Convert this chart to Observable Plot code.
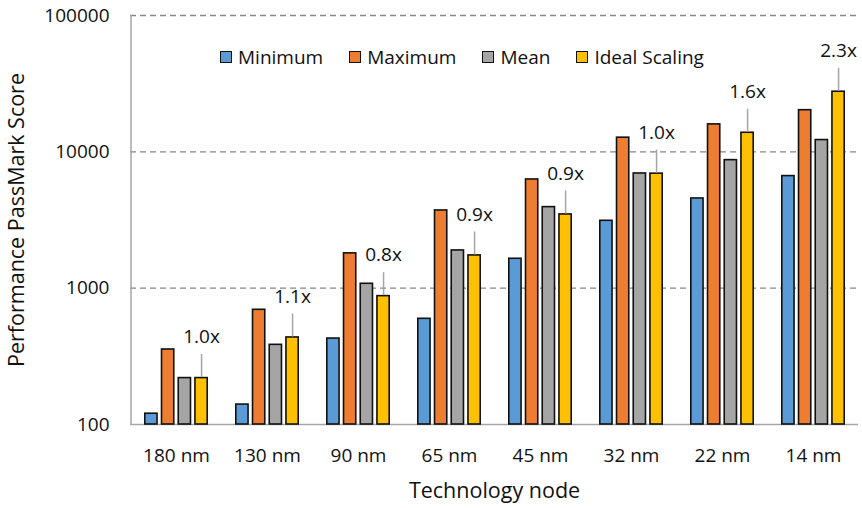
<!DOCTYPE html>
<html>
<head>
<meta charset="utf-8">
<script src="https://cdn.jsdelivr.net/npm/d3@7"></script>
<script src="https://cdn.jsdelivr.net/npm/@observablehq/plot@0.6"></script>
<style>
  html, body { margin: 0; padding: 0; background: #fff; }
  #wrap { position: relative; width: 862px; height: 508px; font-family: "Open Sans", sans-serif; }
  #legend { position: absolute; left: 220px; top: 44px; display: flex; gap: 26px; font-size: 19px; color: #111; }
  .item { display: flex; align-items: center; gap: 6px; }
  .sw { width: 10px; height: 10px; border: 1.5px solid #111; }
</style>
</head>
<body>
<div id="wrap"><div id="legend"></div></div>
<script>
// ---- data ----
const nodes = ["180 nm", "130 nm", "90 nm", "65 nm", "45 nm", "32 nm", "22 nm", "14 nm"];
const seriesNames = ["Minimum", "Maximum", "Mean", "Ideal Scaling"];
const seriesColors = ["#5b9bd5", "#ed7d31", "#a5a5a5", "#ffc000"];
const minimum = [120, 140, 427, 596, 1643, 3120, 4550, 6640];
const maximum = [355, 694, 1800, 3715, 6270, 12700, 15900, 20200];
const mean = [219, 384, 1077, 1891, 3930, 6940, 8690, 12200];
const idealScaling = [219, 435, 874, 1738, 3474, 6920, 13800, 27600];
const scalingLabels = ["1.0x", "1.1x", "0.8x", "0.9x", "0.9x", "1.0x", "1.6x", "2.3x"];
const yTicks = [100, 1000, 10000, 100000];
const gridTicks = [1000, 10000, 100000];

const seriesValues = [minimum, maximum, mean, idealScaling];
const rows = [];
seriesNames.forEach((s, j) => nodes.forEach((n, i) => rows.push({node: n, series: s, j, value: seriesValues[j][i]})));
const labelRows = nodes.map((n, i) => ({node: n, value: idealScaling[i], label: scalingLabels[i]}));

// ---- layout ----
const W = 862, H = 508, mL = 130, mR = 4, mT = 15, mB = 84;
const padInner = 0.302, padOuter = 0.151;
const step = (W - mL - mR) / (nodes.length - padInner + 2 * padOuter);
const bw = step * (1 - padInner);
const barStep = bw / (seriesNames.length - 0.2);
const barW = barStep * 0.8;
const yellowDx = bw / 2 - barW / 2;
const leader = 24;

const barMarks = seriesNames.map((s, j) => Plot.barY(rows.filter(d => d.j === j), {
  x: "node", y1: 100, y2: "value",
  fill: seriesColors[j], stroke: "#111", strokeWidth: 1.6,
  insetLeft: j * barStep + 0.8, insetRight: (seriesNames.length - 1 - j) * barStep + 0.8
}));

const plot = Plot.plot({
  width: W, height: H,
  marginLeft: mL, marginRight: mR, marginTop: mT, marginBottom: mB,
  style: {fontFamily: "Open Sans, sans-serif", fontSize: "19px", color: "#111", background: "transparent"},
  x: {type: "band", domain: nodes, paddingInner: padInner, paddingOuter: padOuter, tickSize: 0, tickPadding: 24, label: null},
  y: {type: "log", domain: [100, 100000], ticks: yTicks, tickFormat: d => String(d), tickSize: 0, tickPadding: 21, label: null},
  marks: [
    Plot.ruleY(gridTicks, {stroke: "#888", strokeWidth: 1.4, strokeDasharray: "6,4"}),
    Plot.ruleY([100], {stroke: "#a6a6a6", strokeWidth: 1.5}),
    Plot.ruleX([nodes[0]], {dx: -(padOuter * step + bw / 2), y1: 100, y2: 100000, stroke: "#a6a6a6", strokeWidth: 1.5}),
    ...barMarks,
    Plot.dot(labelRows, {
      x: "node", y: "value", dx: yellowDx, stroke: "#a6a6a6", strokeWidth: 1.5, fill: "none",
      symbol: {draw(ctx) { ctx.moveTo(0, -1); ctx.lineTo(0, -leader); }}
    }),
    Plot.text(labelRows, {
      x: "node", y: "value", text: "label", dx: yellowDx, dy: -(leader + 17),
      textAnchor: "middle", lineAnchor: "middle", fontSize: 19, fill: "#111"
    }),
    Plot.text(["Technology node"], {frameAnchor: "bottom", textAnchor: "middle", lineAnchor: "middle", dy: 67, fontSize: 21.5, fill: "#111"}),
    Plot.text(["Performance PassMark Score"], {frameAnchor: "left", textAnchor: "middle", lineAnchor: "middle", rotate: -90, dx: -113, fontSize: 21.5, fill: "#111"})
  ]
});
document.getElementById("wrap").prepend(plot);

const legend = document.getElementById("legend");
seriesNames.forEach((s, j) => {
  const it = document.createElement("div"); it.className = "item";
  const sw = document.createElement("div"); sw.className = "sw"; sw.style.background = seriesColors[j];
  const t = document.createElement("span"); t.textContent = s;
  it.append(sw, t); legend.append(it);
});
</script>
</body>
</html>
